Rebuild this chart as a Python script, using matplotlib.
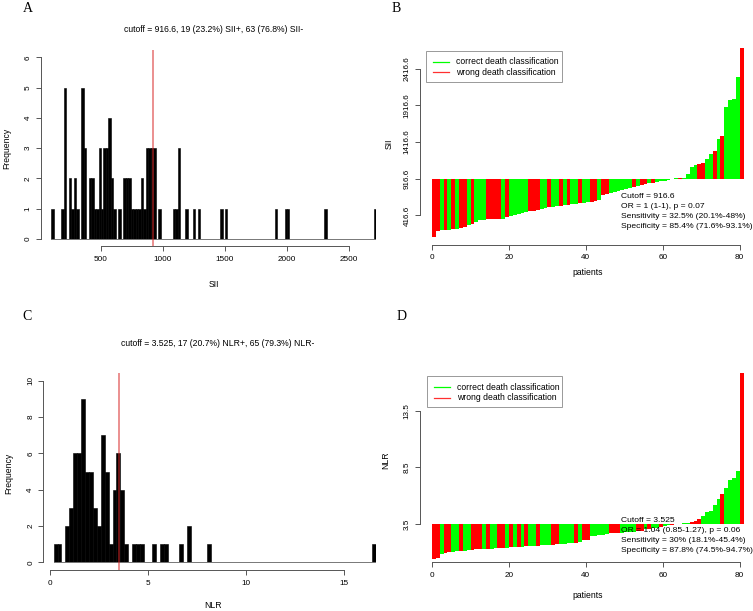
import numpy as np
import matplotlib.pyplot as plt
from matplotlib.lines import Line2D
from matplotlib.patches import Rectangle

# ===== Datos =====
sii_cutoff = 916.6
sii_bin_left = [100, 180, 200, 240, 260, 280, 300, 340, 360, 400, 420, 440, 460, 480,
                500, 520, 540, 560, 580, 600, 640, 680, 700, 720, 740, 760, 780, 800,
                820, 840, 860, 880, 900, 920, 960, 1080, 1100, 1120, 1180, 1240, 1280,
                1460, 1500, 1900, 1980, 2000, 2300, 2700]
sii_counts = [1, 1, 5, 2, 1, 2, 1, 5, 3, 2, 2, 1, 1, 3,
              1, 3, 3, 4, 2, 1, 1, 2, 2, 2, 1, 1, 1, 1,
              2, 1, 3, 3, 3, 3, 1, 1, 1, 3, 1, 1, 1,
              1, 1, 1, 1, 1, 1, 1]

nlr_cutoff = 3.525
nlr_bin_left = [0.2, 0.4, 0.8, 1.0, 1.2, 1.4, 1.6, 1.8, 2.0, 2.2, 2.4, 2.6, 2.8, 3.0,
                3.2, 3.4, 3.6, 3.8, 4.2, 4.4, 4.6, 5.2, 5.6, 5.8, 6.6, 7.0, 8.0, 16.4]
nlr_counts = [1, 1, 2, 3, 6, 6, 9, 5, 5, 3, 2, 7, 5, 1,
              4, 6, 4, 1, 1, 1, 1, 1, 1, 1, 1, 2, 1, 1]

# valores ordenados por paciente (81) y clasificación (1 = correcta, 0 = errónea)
sii_sorted = [121, 203, 217, 217, 221, 226, 235, 244, 253, 285, 298, 330, 348, 357,
              362, 362, 365, 368, 371, 389, 408, 421, 435, 444, 457, 476, 480, 489,
              503, 512, 526, 535, 539, 548, 553, 557, 567, 571, 580, 589, 594, 603,
              612, 626, 698, 707, 726, 739, 753, 767, 780, 794, 808, 817, 830, 839,
              853, 862, 871, 880, 889, 898, 918, 921, 925, 930, 980, 1080, 1107, 1121,
              1130, 1185, 1248, 1294, 1457, 1503, 1898, 1989, 2003, 2303, 2703]
sii_correct = [0, 0, 1, 0, 1, 0, 1, 0, 0, 1, 0, 1, 1, 1, 0, 0, 0, 0, 1, 0, 1, 1, 1, 1,
               1, 0, 0, 0, 1, 1, 0, 1, 1, 0, 1, 0, 1, 1, 0, 1, 1, 0, 0, 1, 0, 0, 1, 1,
               1, 1, 1, 1, 0, 1, 0, 0, 1, 0, 1, 1, 1, 1, 1, 1, 0, 1, 1, 1, 1, 0, 0, 1,
               1, 0, 1, 0, 1, 1, 1, 1, 0]

nlr_sorted = [0.40, 0.52, 0.85, 0.96, 0.98, 1.05, 1.10, 1.13, 1.15, 1.17, 1.22, 1.25,
              1.27, 1.29, 1.31, 1.33, 1.35, 1.37, 1.39, 1.41, 1.43, 1.45, 1.47, 1.49,
              1.51, 1.54, 1.56, 1.58, 1.60, 1.62, 1.65, 1.67, 1.70, 1.72, 1.75, 1.78,
              1.80, 1.85, 1.93, 2.05, 2.10, 2.44, 2.48, 2.52, 2.56, 2.60, 2.67, 2.68,
              2.70, 2.74, 2.76, 2.78, 2.80, 2.85, 2.88, 3.03, 3.07, 3.11, 3.15, 3.23,
              3.30, 3.37, 3.42, 3.47, 3.54, 3.56, 3.60, 3.66, 3.75, 3.94, 4.23, 4.59,
              4.68, 5.18, 5.68, 6.12, 6.71, 7.39, 7.54, 8.22, 16.9]
nlr_correct = [0, 0, 1, 0, 0, 1, 1, 0, 1, 1, 0, 0, 0, 1, 0, 1, 1, 0, 0, 1, 0, 1, 0, 1,
               0, 1, 1, 0, 1, 1, 1, 0, 0, 1, 1, 1, 1, 0, 1, 0, 0, 1, 1, 1, 1, 1, 0, 0,
               0, 1, 1, 1, 1, 0, 0, 1, 0, 1, 1, 0, 1, 1, 0, 1, 1, 1, 1, 0, 0, 0, 1, 1,
               1, 1, 1, 0, 1, 1, 1, 1, 0]

sii_stats = ["Cutoff = 916.6", "OR = 1 (1-1), p = 0.07",
             "Sensitivity = 32.5% (20.1%-48%)", "Specificity = 85.4% (71.6%-93.1%)"]
nlr_stats = ["Cutoff = 3.525", "OR = 1.04 (0.85-1.27), p = 0.06",
             "Sensitivity = 30% (18.1%-45.4%)", "Specificity = 87.8% (74.5%-94.7%)"]

# ===== Figura =====
W, H = 753, 611
plt.rcParams['font.family'] = ['Liberation Sans', 'DejaVu Sans']
fig = plt.figure(figsize=(W / 100, H / 100), dpi=100)
FS = 6.2
AXC = '#555555'


def px_axes(x0, y0, x1, y1):
    return fig.add_axes([x0 / W, 1 - y1 / H, (x1 - x0) / W, (y1 - y0) / H])


def ftext(x, y, s, **kw):
    kw.setdefault('ha', 'center')
    kw.setdefault('va', 'center')
    kw.setdefault('size', FS)
    fig.text(x / W, 1 - y / H, s, **kw)


def r_style(ax, xt, yt, xb, yb, xlab=None, ylab=None):
    for s in ['top', 'right']:
        ax.spines[s].set_visible(False)
    ax.spines['left'].set_bounds(*yb)
    ax.spines['bottom'].set_bounds(*xb)
    for s in ['left', 'bottom']:
        ax.spines[s].set_color(AXC)
        ax.spines[s].set_linewidth(0.7)
    ax.set_xticks(xt)
    ax.set_yticks(yt)
    if xlab is not None:
        ax.set_xticklabels(xlab)
    if ylab is not None:
        ax.set_yticklabels(ylab)
    ax.tick_params(length=3.6, width=0.7, color=AXC, labelsize=FS - 0.3)
    ax.tick_params(axis='x', pad=3.5)
    ax.tick_params(axis='y', pad=3)
    for lb in ax.get_yticklabels():
        lb.set_rotation(90)
        lb.set_va('center')
    ax.set_facecolor('none')


def legend_box(x0, y0):
    fig.patches.append(Rectangle((x0 / W, 1 - (y0 + 31.3) / H), 135.7 / W, 31.3 / H,
                                 transform=fig.transFigure, fill=False,
                                 edgecolor='#999999', lw=0.7))
    for k, (c, lab) in enumerate([('#00ff00', 'correct death classification'),
                                  ('#ff3030', 'wrong death classification')]):
        yy = y0 + 11.3 + 10.2 * k
        fig.lines.append(Line2D([(x0 + 7) / W, (x0 + 23) / W], [1 - yy / H] * 2,
                                transform=fig.transFigure, color=c, lw=0.9))
        ftext(x0 + 30, yy, lab, ha='left')


# --- A: histograma SII ---
axA = px_axes(40.7, 50, 376, 246.3)
axA.set_xlim(500 - (101 - 40.7) / 0.124, 500 + (376 - 101) / 0.124)
axA.set_ylim(-0.24, 6.24)
axA.plot([100, 2720], [0, 0], color='#777777', lw=0.7)
axA.bar(sii_bin_left, sii_counts, width=20, align='edge', color='black',
        edgecolor='black', lw=0.4)
axA.axvline(sii_cutoff, color=(0.85, 0.15, 0.15), alpha=0.6, lw=1.2)
r_style(axA, [500, 1000, 1500, 2000, 2500], range(7), (500, 2500), (0, 6))
ftext(214, 30, "cutoff = 916.6, 19 (23.2%) SII+, 63 (76.8%) SII-")
ftext(214, 284, "SII")
ftext(7, 148, "Frequency", rotation=90)

# --- B: cascada SII ---
n = len(sii_sorted)
axB = px_axes(419.6, 40.2, 753, 244.6)
axB.set_xlim(-3.24, (753 - 432) / 3.846)
axB.set_ylim(19, 2803)
colsB = ['#00ff00' if c else '#ff0000' for c in sii_correct]
axB.bar(np.arange(n), np.array(sii_sorted) - sii_cutoff, bottom=sii_cutoff, width=1,
        align='edge', color=colsB, lw=0)
ytB = [416.6, 916.6, 1416.6, 1916.6, 2416.6]
r_style(axB, [0, 20, 40, 60, 80], ytB, (0, 80), (416.6, 2416.6),
        ylab=[f"{v:.1f}" for v in ytB])
ftext(389, 144, "SII", rotation=90)
ftext(587.7, 272.7, "patients")
legend_box(426, 50.7)
for k, s in enumerate(sii_stats):
    ftext(621, 196 + 10.3 * k, s, ha='left', size=6.1)

# --- C: histograma NLR ---
axC = px_axes(43.3, 373.1, 376, 569.9)
axC.set_xlim(-0.324, 16.61)
axC.set_ylim(-0.42, 10.42)
axC.plot([0.2, 16.6], [0, 0], color='#777777', lw=0.7)
axC.bar(nlr_bin_left, nlr_counts, width=0.2, align='edge', color='black',
        edgecolor='black', lw=0.4)
axC.axvline(nlr_cutoff, color=(0.85, 0.15, 0.15), alpha=0.6, lw=1.2)
r_style(axC, [0, 5, 10, 15], range(0, 11, 2), (0, 15), (0, 10))
ftext(218, 343.3, "cutoff = 3.525, 17 (20.7%) NLR+, 65 (79.3%) NLR-")
ftext(213, 605, "NLR")
ftext(8.3, 473, "Frequency", rotation=90)

# --- D: cascada NLR ---
axD = px_axes(419.6, 365, 753, 561.7)
axD.set_xlim(-3.24, (753 - 432) / 3.846)
axD.set_ylim(0.164, 17.57)
colsD = ['#00ff00' if c else '#ff0000' for c in nlr_correct]
axD.bar(np.arange(n), np.array(nlr_sorted) - nlr_cutoff, bottom=nlr_cutoff, width=1,
        align='edge', color=colsD, lw=0)
r_style(axD, [0, 20, 40, 60, 80], [3.5, 8.5, 13.5], (0, 80), (3.5, 13.5))
ftext(386, 460, "NLR", rotation=90)
ftext(587.7, 595.7, "patients")
legend_box(426.7, 376)
for k, s in enumerate(nlr_stats):
    ftext(621, 520 + 10.3 * k, s, ha='left', size=6.1)

# letras de panel
for (x, y, s) in [(28, 8, "A"), (396, 8, "B"), (27, 316, "C"), (402, 316, "D")]:
    ftext(x, y, s, family='Liberation Serif', size=10)

fig.savefig("out.png", dpi=100)
